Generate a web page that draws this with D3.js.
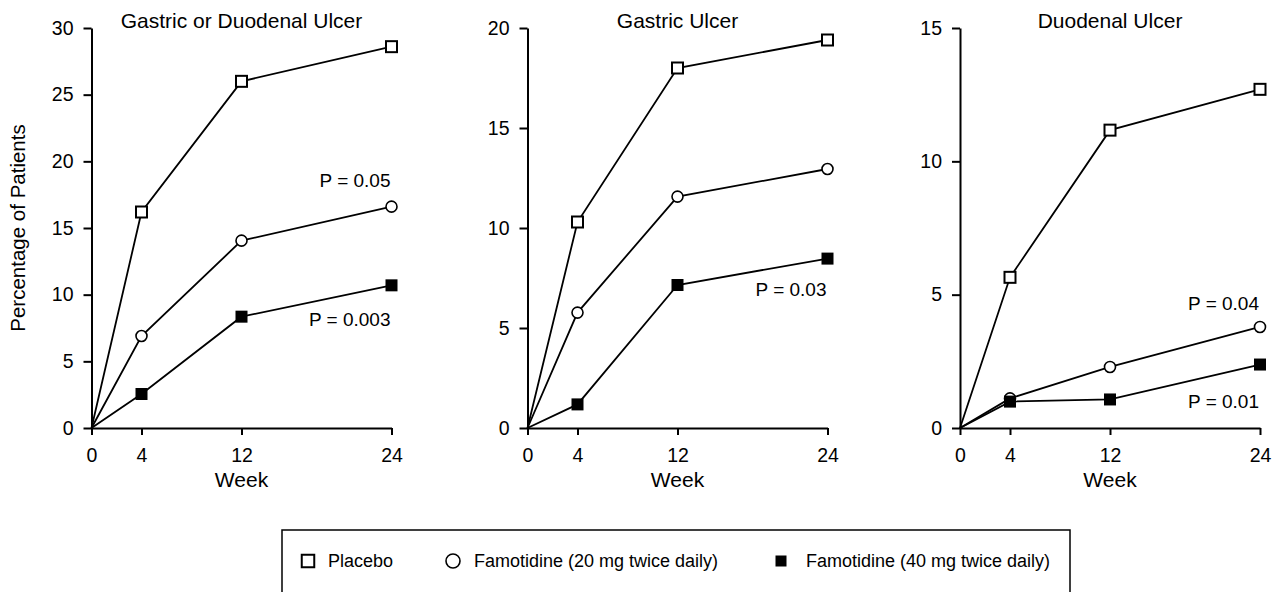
<!DOCTYPE html>
<html>
<head>
<meta charset="utf-8">
<script src="https://cdn.jsdelivr.net/npm/d3@7"></script>
<style>
  html, body { margin: 0; padding: 0; background: #fff; }
  svg { display: block; }
  text { font-family: "Liberation Sans", Arial, Helvetica, sans-serif; fill: #000; }
</style>
</head>
<body>
<svg id="chart" width="1282" height="592"></svg>
<script>
// ---------- data ----------
const panelTitles = ["Gastric or Duodenal Ulcer", "Gastric Ulcer", "Duodenal Ulcer"];
const weeks = [0, 4, 12, 24];
const xTickValues = [0, 4, 12, 24];
const yMaxes = [30, 20, 15];
const yTickValues = [
  [0, 5, 10, 15, 20, 25, 30],
  [0, 5, 10, 15, 20],
  [0, 5, 10, 15]
];
const placebo = [
  [0, 16.2, 26.0, 28.6],
  [0, 10.3, 18.0, 19.4],
  [0, 5.65, 11.17, 12.7]
];
const famotidine20 = [
  [0, 6.9, 14.05, 16.6],
  [0, 5.77, 11.57, 12.95],
  [0, 1.11, 2.29, 3.79]
];
const famotidine40 = [
  [0, 2.55, 8.35, 10.7],
  [0, 1.18, 7.15, 8.47],
  [0, 0.99, 1.07, 2.38]
];
const seriesNames = ["Placebo", "Famotidine (20 mg twice daily)", "Famotidine (40 mg twice daily)"];
// P-value annotations: panel index, text, vertical anchor (in data units)
const pPanels = [0, 0, 1, 2, 2];
const pTexts = ["P = 0.05", "P = 0.003", "P = 0.03", "P = 0.04", "P = 0.01"];
const pValues = [18.05, 7.67, 6.6, 4.42, 0.76];
const xAxisTitle = "Week";
const yAxisTitle = "Percentage of Patients";

// ---------- layout ----------
const svg = d3.select("#chart");
svg.append("rect").attr("width", 1282).attr("height", 592).attr("fill", "#fff");
const panelLeft = [91.5, 527.5, 960];
const plotW = 300, plotTop = 28, plotBottom = 428;

const allSeries = [placebo, famotidine20, famotidine40];

function drawMarker(g, type, cx, cy, big) {
  if (type === 0) {
    const a = big ? 12.5 : 11;
    g.append("rect").attr("x", cx - a / 2).attr("y", cy - a / 2)
      .attr("width", a).attr("height", a)
      .attr("fill", "#fff").attr("stroke", "#000").attr("stroke-width", 2);
  } else if (type === 1) {
    g.append("circle").attr("cx", cx).attr("cy", cy).attr("r", big ? 7 : 5.5)
      .attr("fill", "#fff").attr("stroke", "#000").attr("stroke-width", 1.6);
  } else {
    const a = big ? 11 : 12;
    g.append("rect").attr("x", cx - a / 2).attr("y", cy - a / 2)
      .attr("width", a).attr("height", a).attr("fill", "#000");
  }
}

panelTitles.forEach((title, i) => {
  const L = panelLeft[i];
  const x = d3.scaleLinear().domain([0, 24]).range([L, L + plotW]);
  const y = d3.scaleLinear().domain([0, yMaxes[i]]).range([plotBottom, plotTop]);
  const g = svg.append("g");

  // axes
  const yAxis = d3.axisLeft(y).tickValues(yTickValues[i]).tickSize(8).tickPadding(10).tickSizeOuter(0);
  const xAxis = d3.axisBottom(x).tickValues(xTickValues).tickSize(7).tickPadding(13).tickSizeOuter(0);
  const gy = g.append("g").attr("transform", `translate(${L},0)`).call(yAxis);
  const gx = g.append("g").attr("transform", `translate(0,${plotBottom})`).call(xAxis);
  [gx, gy].forEach(ax => {
    ax.select(".domain").attr("stroke", "#000").attr("stroke-width", 2);
    ax.selectAll(".tick line").attr("stroke", "#000").attr("stroke-width", 2);
    ax.selectAll(".tick text").attr("font-size", 19.5).attr("fill", "#000")
      .attr("font-family", "'Liberation Sans', Arial, Helvetica, sans-serif");
  });

  // lines
  const line = d3.line().x((d, k) => x(weeks[k])).y(d => y(d));
  allSeries.forEach((ser) => {
    g.append("path").datum(ser[i]).attr("d", line)
      .attr("fill", "none").attr("stroke", "#000").attr("stroke-width", 1.8);
  });
  // markers (skip week 0)
  allSeries.forEach((ser, s) => {
    ser[i].forEach((v, k) => {
      if (k === 0) return;
      drawMarker(g, s, x(weeks[k]), y(v), false);
    });
  });

  // title
  g.append("text").attr("x", L + plotW / 2).attr("y", 28)
    .attr("text-anchor", "middle").attr("font-size", 21).text(title);
  // x-axis title
  g.append("text").attr("x", L + plotW / 2).attr("y", 487)
    .attr("text-anchor", "middle").attr("font-size", 21).text(xAxisTitle);

  // p annotations
  pPanels.forEach((p, j) => {
    if (p !== i) return;
    g.append("text").attr("x", x(24) - 1).attr("y", y(pValues[j]))
      .attr("text-anchor", "end").attr("font-size", 19).text(pTexts[j]);
  });
});

// y-axis title
svg.append("text").attr("transform", "translate(25,228) rotate(-90)")
  .attr("text-anchor", "middle").attr("font-size", 20.5).text(yAxisTitle);

// legend
const lg = svg.append("g");
lg.append("rect").attr("x", 282).attr("y", 530).attr("width", 788).attr("height", 66)
  .attr("fill", "none").attr("stroke", "#000").attr("stroke-width", 1.5);
const legendMarkerX = [308, 453, 781];
const legendTextX = [328, 474, 806];
seriesNames.forEach((name, s) => {
  drawMarker(lg, s, legendMarkerX[s], 561, true);
  lg.append("text").attr("x", legendTextX[s]).attr("y", 567)
    .attr("font-size", 18).text(name);
});
</script>
</body>
</html>
